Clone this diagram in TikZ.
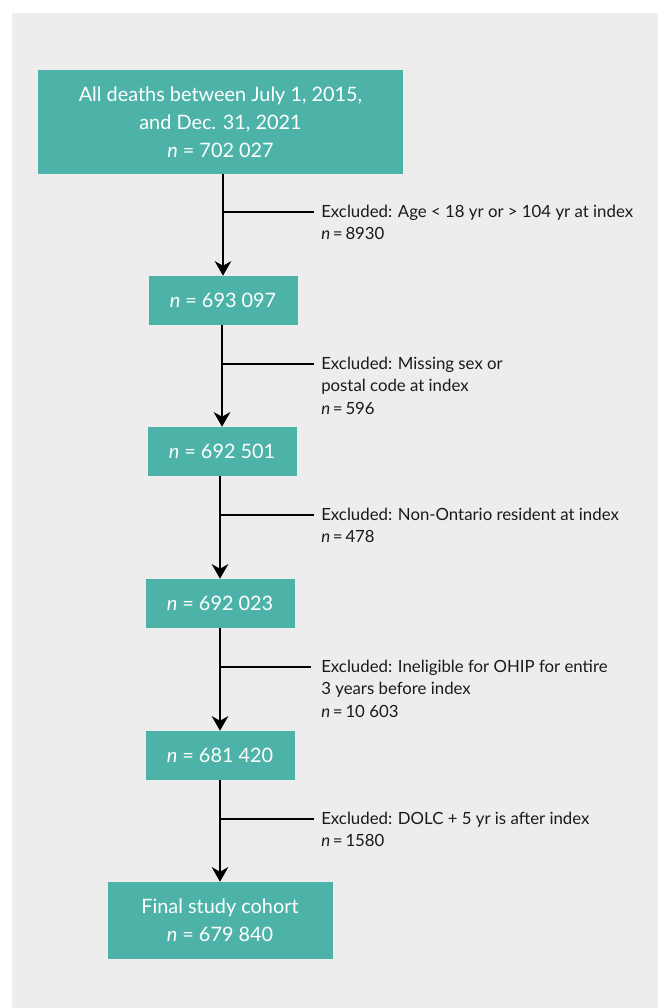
\documentclass[tikz,border=0pt]{standalone}
\usepackage{fontspec}
\setmainfont{Lato}
\usetikzlibrary{arrows.meta}
\definecolor{tealbox}{HTML}{4DB3A8}
\definecolor{bggray}{HTML}{EDEDED}
\definecolor{ink}{HTML}{1A1A1A}
\begin{document}
\begin{tikzpicture}[x=0.75pt,y=-0.75pt,
  box/.style={fill=tealbox, text=white, inner sep=0pt, align=center, font=\fontsize{14.9}{21}\selectfont},
  smallbox/.style={box, minimum width=111.75pt, minimum height=36.75pt},
  flow/.style={line width=1.15pt, draw=black, -{Stealth[length=11pt,width=12.5pt,inset=3.5pt]}},
  branch/.style={line width=1.15pt, draw=black},
  excl/.style={anchor=north west, align=left, text=ink, inner sep=0pt, font=\fontsize{12.6}{17}\selectfont}]
\useasboundingbox (0,0) rectangle (658,1008);
\fill[bggray] (12,13) rectangle (658,1008);

\node[box, minimum width=273.75pt, minimum height=78pt] (b1) at (220.5,122)
  {All deaths between July 1, 2015,\\ and Dec. 31, 2021\\ \textit{n} = 702 027};
\node[smallbox] (b2) at (223,300.5) {\textit{n} = 693 097};
\node[smallbox] (b3) at (222,451.5) {\textit{n} = 692 501};
\node[smallbox] (b4) at (220,603.5) {\textit{n} = 692 023};
\node[smallbox] (b5) at (220,755.5) {\textit{n} = 681 420};
\node[box, minimum width=168.75pt, minimum height=57.75pt] (b6) at (220,920.5)
  {Final study cohort\\ \textit{n} = 679 840};

\draw[flow] (b1.south -| b2.north) -- (b2.north);
\draw[flow] (b2.south -| b3.north) -- (b3.north);
\draw[flow] (b3.south -| b4.north) -- (b4.north);
\draw[flow] (b4.south -| b5.north) -- (b5.north);
\draw[flow] (b5.south -| b6.north) -- (b6.north);

\coordinate (j1) at (223,212); \coordinate (e1) at (314,212);
\coordinate (j2) at (222,364); \coordinate (e2) at (314,364);
\coordinate (j3) at (220,515); \coordinate (e3) at (314,515);
\coordinate (j4) at (220,667); \coordinate (e4) at (311,667);
\coordinate (j5) at (220,819); \coordinate (e5) at (314,819);
\draw[branch] (j1) -- (e1);
\draw[branch] (j2) -- (e2);
\draw[branch] (j3) -- (e3);
\draw[branch] (j4) -- (e4);
\draw[branch] (j5) -- (e5);

\node[excl] (t1) at (321,204.5) {Excluded: Age < 18 yr or > 104 yr at index\\ \textit{n}\,=\,8930};
\node[excl] (t2) at (321,356.5) {Excluded: Missing sex or\\ postal code at index\\ \textit{n}\,=\,596};
\node[excl] (t3) at (321,507.5) {Excluded: Non-Ontario resident at index\\ \textit{n}\,=\,478};
\node[excl] (t4) at (321,659.5) {Excluded: Ineligible for OHIP for entire\\ 3 years before index\\ \textit{n}\,=\,10 603};
\node[excl] (t5) at (321,811.5) {Excluded: DOLC + 5 yr is after index\\ \textit{n}\,=\,1580};
\end{tikzpicture}
\end{document}
